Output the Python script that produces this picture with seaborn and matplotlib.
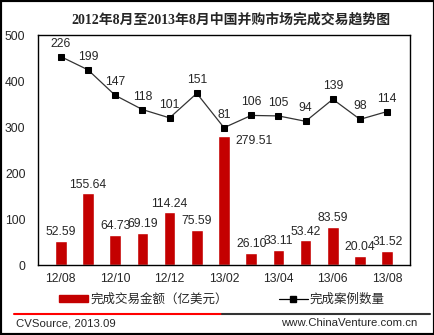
import numpy as np
import pandas as pd
import matplotlib
matplotlib.use("Agg")
import matplotlib.pyplot as plt
import seaborn as sns
from matplotlib.patches import Rectangle, Patch
from matplotlib.lines import Line2D

months = ["12/08", "12/09", "12/10", "12/11", "12/12", "13/01", "13/02",
          "13/03", "13/04", "13/05", "13/06", "13/07", "13/08"]
amount = [52.59, 155.64, 64.73, 69.19, 114.24, 75.59, 279.51,
          26.10, 33.11, 53.42, 83.59, 20.04, 31.52]
deals = [226, 199, 147, 118, 101, 151, 81, 106, 105, 94, 139, 98, 114]
yticks = [0, 100, 200, 300, 400, 500]

title = "2012年8月至2013年8月中国并购市场完成交易趋势图"
leg_bar = "完成交易金额（亿美元）"
leg_line = "完成案例数量"
src_left = "CVSource, 2013.09"
src_right = "www.ChinaVenture.com.cn"

sns.set_style("white")
plt.rcParams['font.family'] = ['Liberation Sans', 'Noto Sans CJK SC', 'DejaVu Sans']

RED = "#C40000"
fs = 8.7

fig = plt.figure(figsize=(4.35, 3.35), dpi=100)
ax = fig.add_axes([38/435, 1-265/335, 372/435, 230/335])

df = pd.DataFrame({"month": months, "amount": amount, "deals": deals})
sns.barplot(data=df, x="month", y="amount", ax=ax, color=RED, saturation=1,
            width=0.43, order=months)
ax.set_ylim(0, 500)
ax.set_yticks(yticks)
ax.set_yticklabels([str(t) for t in yticks], fontsize=fs)
ax.set_xticks(range(0, len(months), 2))
ax.set_xticklabels(months[::2], fontsize=fs)
ax.tick_params(axis='both', length=0)
ax.tick_params(axis='y', pad=9)
ax.tick_params(axis='x', pad=6)
ax.set_xlabel("")
ax.set_ylabel("")
for s in ax.spines.values():
    s.set_visible(True)
    s.set_color("black")
    s.set_linewidth(1)

for i, v in enumerate(amount):
    if v == max(amount):
        ax.annotate(f"{v:.2f}", (i, v), xytext=(8.5, 1), textcoords="offset points",
                    ha="left", va="top", fontsize=fs)
    else:
        ax.annotate(f"{v:.2f}", (i, v), xytext=(0, 2), textcoords="offset points",
                    ha="center", va="bottom", fontsize=fs)

ax2 = ax.twinx()
sns.lineplot(x=np.arange(len(deals)), y=deals, ax=ax2, color="#333333",
             linewidth=0.9, marker="s", markersize=4.5, markerfacecolor="black",
             markeredgecolor="black")
ax2.set_ylim(-199, 270)
ax2.set_yticks([])
for s in ax2.spines.values():
    s.set_visible(False)
ax2.set_ylabel("")
for i, v in enumerate(deals):
    ax2.annotate(str(v), (i, v), xytext=(0, 5), textcoords="offset points",
                 ha="center", va="bottom", fontsize=fs)

fig.text(231/435, 1-20/335, title, ha="center", va="center", fontsize=10,
         fontweight="bold", family=['Liberation Serif', 'Noto Sans CJK SC'])

handles = [Patch(facecolor=RED, edgecolor=RED),
           Line2D([], [], color="black", linewidth=0.9, marker="s", markersize=4.5)]
fig.legend(handles, [leg_bar, leg_line], loc="center", bbox_to_anchor=(222/435, 1-300/335),
           ncol=2, frameon=False, fontsize=9, handlelength=2.3, handleheight=0.55,
           handletextpad=0.15, columnspacing=4.1, borderpad=0, borderaxespad=0)

fig.add_artist(Line2D([14/435, 222/435], [1-313.5/335]*2, transform=fig.transFigure,
                      color="#FF0000", linewidth=1.5))
fig.add_artist(Line2D([222/435, 430/435], [1-313.5/335]*2, transform=fig.transFigure,
                      color="#333333", linewidth=1.5))
fig.text(16/435, 1-323/335, src_left, ha="left", va="center", fontsize=8.2)
fig.text(417/435, 1-323/335, src_right, ha="right", va="center", fontsize=8.2)

fig.patches.append(Rectangle((0, 0), 1, 1, transform=fig.transFigure, fill=False,
                             edgecolor="black", linewidth=3))

fig.savefig("out.png", dpi=100)
